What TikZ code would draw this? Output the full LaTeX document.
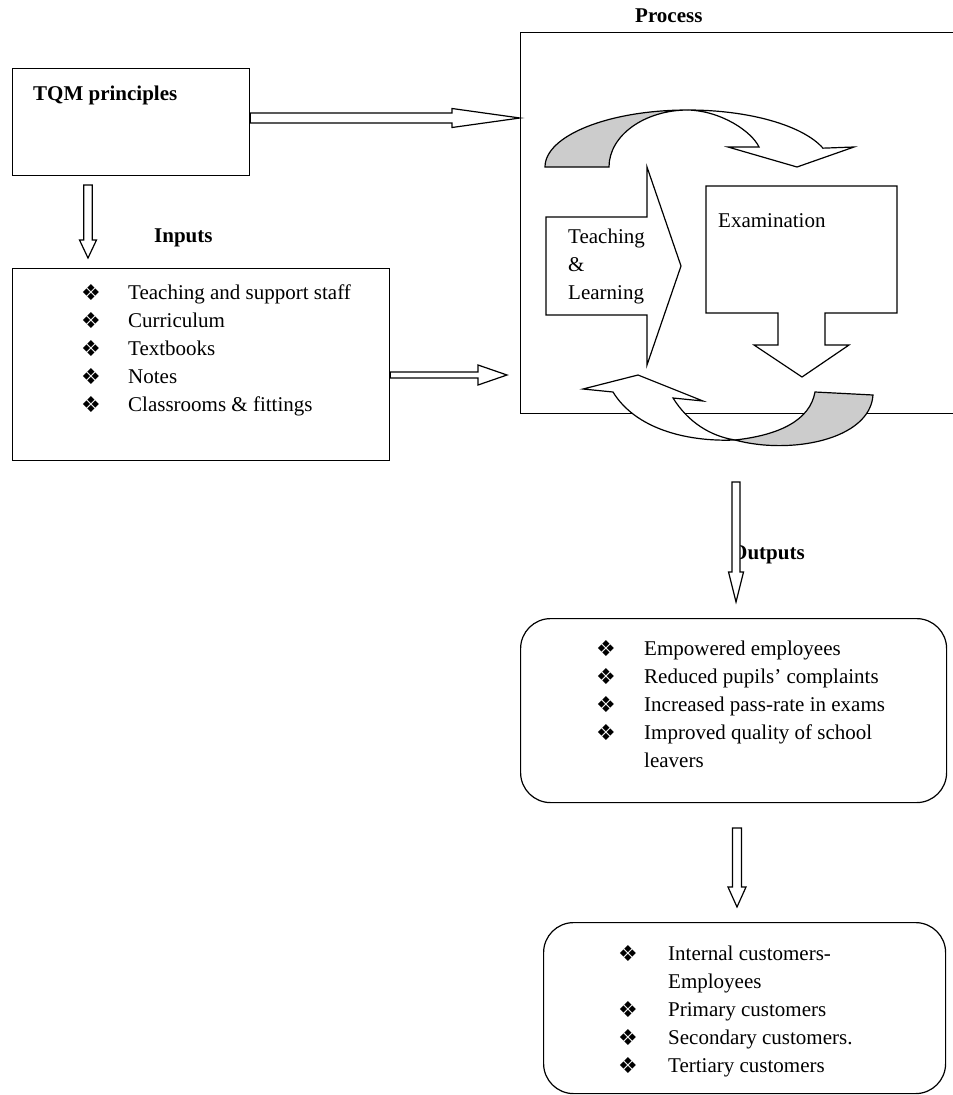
\documentclass[tikz,border=0pt]{standalone}
\usepackage{fontspec}
\setmainfont{Liberation Serif}
\newfontfamily\symfont{DejaVu Sans}
\usetikzlibrary{calc}
\tikzset{
  lw/.style={line width=1.2pt},
  boxst/.style={draw, line width=1.2pt, inner sep=0pt, anchor=north west},
  txt/.style={inner sep=0pt, anchor=base west, font=\fontsize{21}{28}\selectfont},
  btxt/.style={inner sep=0pt, anchor=base west, font=\fontsize{21}{28}\selectfont\bfseries},
  bul/.style={inner sep=0pt, anchor=center, font=\symfont\fontsize{22}{22}\selectfont},
  blk/.style={draw, fill=white, line width=1.2pt, line join=miter},
  shade/.style={draw, fill=gray!40, line width=1.2pt},
}
\newcommand{\blockR}[5]{\draw[blk] let \p1=(#1), \p2=(#2) in
  (\x1,\y1+#3) -- (\x2-#5,\y1+#3) -- (\x2-#5,\y1+#4) -- (\x2,\y1) --
  (\x2-#5,\y1-#4) -- (\x2-#5,\y1-#3) -- (\x1,\y1-#3) -- cycle;}
\newcommand{\blockD}[5]{\draw[blk] let \p1=(#1), \p2=(#2) in
  (\x1-#3,\y1) -- (\x1-#3,\y2+#5) -- (\x1-#4,\y2+#5) -- (\x1,\y2) --
  (\x1+#4,\y2+#5) -- (\x1+#3,\y2+#5) -- (\x1+#3,\y1) -- cycle;}
\begin{document}
\begin{tikzpicture}[x=1pt,y=-1pt]
\clip (0,0) rectangle (953,1095);
\fill[white] (0,0) rectangle (953,1095);

% TQM principles
\node[boxst, minimum width=237pt, minimum height=107pt] (tqm) at (12,68) {};
\node[btxt] (tqmt) at (33,100) {TQM principles};

% Inputs
\node[btxt] (inl) at (154,242) {Inputs};
\node[boxst, minimum width=377pt, minimum height=192pt] (inp) at (12,268) {};
\node[bul] (ib1) at (91,293) {❖}; \node[txt] (it1) at (128,299) {Teaching and support staff};
\node[bul] (ib2) at (91,321) {❖}; \node[txt] (it2) at (128,327) {Curriculum};
\node[bul] (ib3) at (91,349) {❖}; \node[txt] (it3) at (128,355) {Textbooks};
\node[bul] (ib4) at (91,377) {❖}; \node[txt] (it4) at (128,383) {Notes};
\node[bul] (ib5) at (91,405) {❖}; \node[txt] (it5) at (128,411) {Classrooms \& fittings};

% Process
\node[btxt] (procl) at (635,22) {Process};
\node[boxst, minimum width=445pt, minimum height=381pt] (proc) at (520,32) {};

% Teaching & Learning block arrow
\draw[blk] (546,217) -- (647,217) -- (647,167) -- (681,266) -- (647,365) -- (647,315) -- (546,315) -- cycle;
\node[txt] (tl1) at (568,243) {Teaching};
\node[txt] (tl2) at (568,271) {\&};
\node[txt] (tl3) at (568,299) {Learning};

% Examination block arrow
\draw[blk] (706,186) -- (897,186) -- (897,313) -- (825,313) -- (825,345) -- (849,345) -- (802,377)
  -- (754,345) -- (778,345) -- (778,313) -- (706,313) -- cycle;
\node[txt] (ex) at (718,227) {Examination};

% top curved arrow
\draw[shade] (545,167) arc[start angle=180, end angle=270, x radius=143, y radius=57]
  arc[start angle=270, end angle=180, x radius=79, y radius=57] -- cycle;
\draw[blk] (688,110) arc[start angle=270, end angle=340.7, x radius=143, y radius=57]
  -- (854,147) -- (797,167) -- (728,147) -- (759,147)
  .. controls (752,132) and (722,111) .. (688,110) -- cycle;

% bottom curved arrow
\draw[shade] (815,392) -- (873,395) .. controls (870,440) and (790,455) .. (735,440)
  .. controls (780,435) and (810,420) .. (815,392) -- cycle;
\draw[blk] (613,392) -- (583,389) -- (638,375) -- (703,401) -- (673,398)
  .. controls (688,422) and (710,436) .. (735,440)
  .. controls (685,442) and (635,428) .. (613,392) -- cycle;

% Outputs
\node[btxt] (outl) at (731,559) {Outputs};
\node[boxst, rounded corners=30pt, minimum width=426pt, minimum height=184pt] (outb) at (520,618) {};
\node[bul] (ob1) at (606,649) {❖}; \node[txt] (ot1) at (644,655) {Empowered employees};
\node[bul] (ob2) at (606,677) {❖}; \node[txt] (ot2) at (644,683) {Reduced pupils’ complaints};
\node[bul] (ob3) at (606,705) {❖}; \node[txt] (ot3) at (644,711) {Increased pass-rate in exams};
\node[bul] (ob4) at (606,733) {❖}; \node[txt] (ot4) at (644,739) {Improved quality of school};
\node[txt] (ot5) at (644,767) {leavers};

% Customers
\node[boxst, rounded corners=30pt, minimum width=402pt, minimum height=171pt] (cust) at (543,922) {};
\node[bul] (cb1) at (628,954) {❖}; \node[txt] (ct1) at (668,960) {Internal customers-};
\node[txt] (ct2) at (668,988) {Employees};
\node[bul] (cb3) at (628,1010) {❖}; \node[txt] (ct3) at (668,1016) {Primary customers};
\node[bul] (cb4) at (628,1038) {❖}; \node[txt] (ct4) at (668,1044) {Secondary customers.};
\node[bul] (cb5) at (628,1066) {❖}; \node[txt] (ct5) at (668,1072) {Tertiary customers};

% connectors (block arrows)
\coordinate (a1s) at (tqm.east |- 0,118);
\coordinate (a1e) at (proc.west |- 0,118);
\coordinate (a2s) at (88,185);
\coordinate (a2e) at (88,258);
\coordinate (a3s) at (inp.east |- 0,375);
\coordinate (a3e) at (507,375);
\coordinate (a4s) at (736,482);
\coordinate (a4e) at (736,602);
\coordinate (a5s) at (737,828);
\coordinate (a5e) at (737,907);
\blockR{a1s}{a1e}{5pt}{9.5pt}{68pt}
\blockD{a2s}{a2e}{4.3pt}{8.5pt}{18pt}
\blockR{a3s}{a3e}{3pt}{10pt}{29pt}
\blockD{a4s}{a4e}{4pt}{7.5pt}{30pt}
\blockD{a5s}{a5e}{4.5pt}{9pt}{20pt}
\end{tikzpicture}
\end{document}
